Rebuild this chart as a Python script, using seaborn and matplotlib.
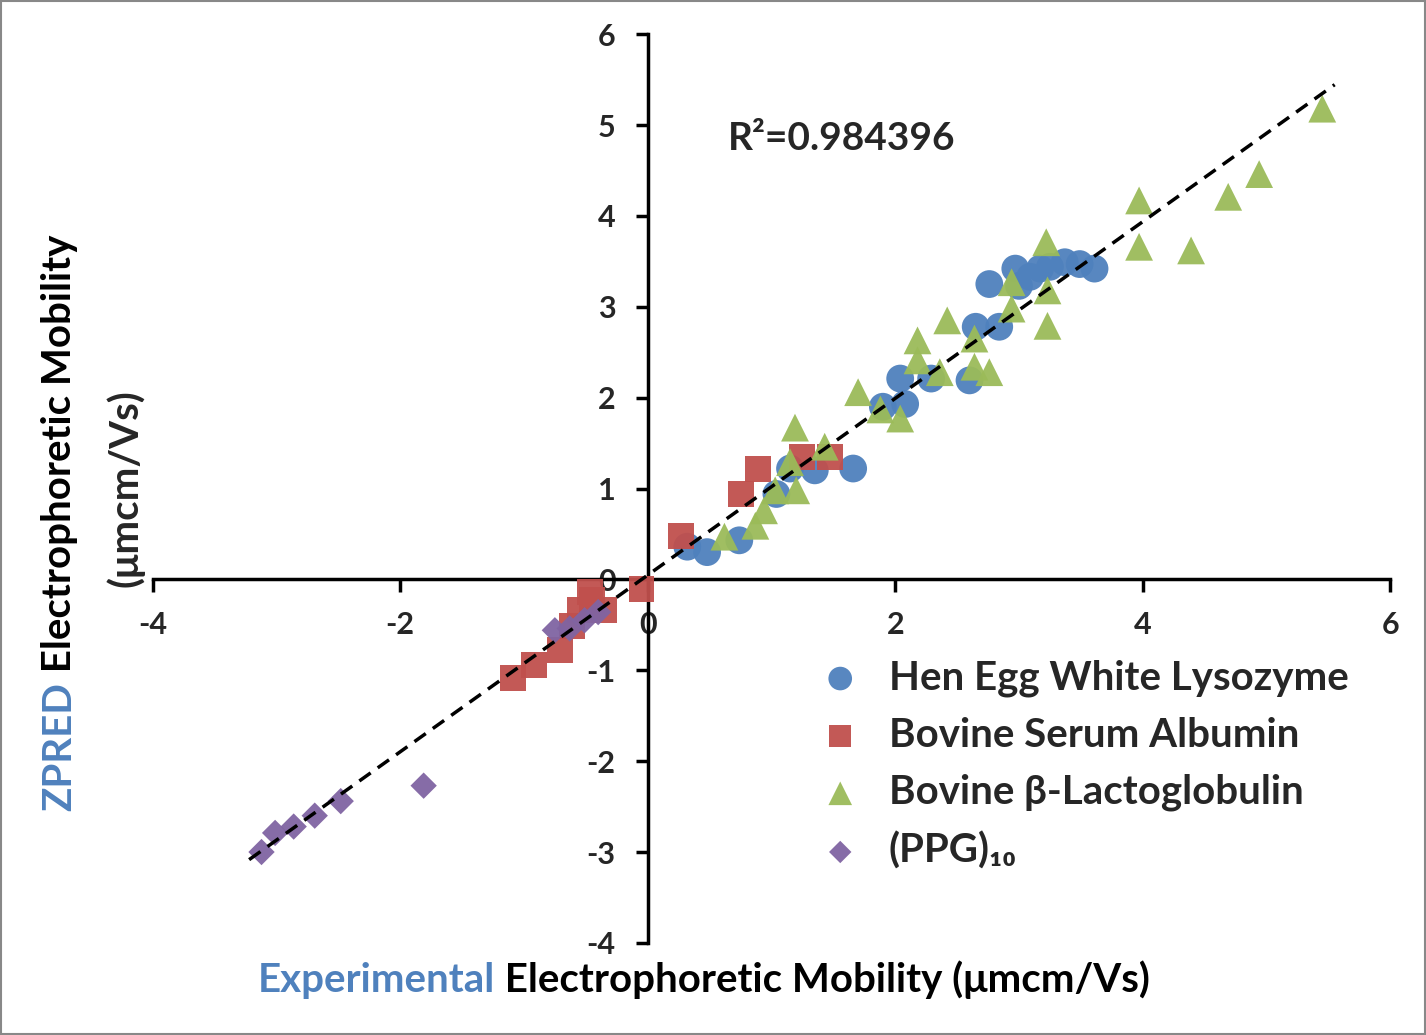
import numpy as np
import pandas as pd
import matplotlib
matplotlib.use("Agg")
import matplotlib.pyplot as plt
import seaborn as sns

# Datos
hewl_x = [0.32, 0.48, 0.74, 1.04, 1.15, 1.35, 1.66, 1.90, 2.08, 2.04, 2.29, 2.60, 2.65, 2.84,
          2.76, 3.00, 2.97, 3.25, 3.37, 3.49, 3.61, 3.17, 3.09]
hewl_y = [0.36, 0.30, 0.43, 0.94, 1.22, 1.20, 1.22, 1.90, 1.93, 2.21, 2.21, 2.19, 2.78, 2.78,
          3.25, 3.23, 3.42, 3.44, 3.49, 3.47, 3.42, 3.42, 3.33]
bsa_x = [0.27, 0.75, 0.89, 1.25, 1.47, -0.05, -1.09, -0.92, -0.71, -0.61, -0.55, -0.45, -0.35, -0.47]
bsa_y = [0.48, 0.94, 1.21, 1.35, 1.35, -0.11, -1.08, -0.94, -0.78, -0.51, -0.34, -0.23, -0.34, -0.14]
blg_x = [0.62, 0.87, 0.94, 1.03, 1.15, 1.20, 1.19, 1.43, 1.70, 1.88, 2.04, 2.18, 2.18, 2.36, 2.42,
         2.64, 2.64, 2.76, 2.94, 2.94, 3.22, 3.23, 3.23, 3.97, 3.97, 4.39, 4.69, 4.94, 5.45]
blg_y = [0.47, 0.59, 0.76, 0.98, 1.29, 0.98, 1.67, 1.46, 2.06, 1.87, 1.77, 2.63, 2.41, 2.28, 2.85,
         2.65, 2.34, 2.28, 3.27, 2.98, 3.71, 3.18, 2.79, 4.17, 3.66, 3.62, 4.21, 4.46, 5.18]
ppg_x = [-3.12, -3.01, -2.86, -2.69, -2.48, -1.81, -0.75, -0.63, -0.51, -0.40]
ppg_y = [-3.00, -2.79, -2.72, -2.60, -2.44, -2.27, -0.56, -0.54, -0.45, -0.36]

series = ["Hen Egg White Lysozyme", "Bovine Serum Albumin", "Bovine β-Lactoglobulin", "(PPG)₁₀"]
colores = ["#4F81BD", "#C0504D", "#9BBB59", "#8064A2"]
marcadores = ["o", "s", "^", "D"]
tamanos = [400, 350, 400, 180]
r2_texto = "R²=0.984396"

frames = []
for nombre, xs, ys in zip(series, [hewl_x, bsa_x, blg_x, ppg_x], [hewl_y, bsa_y, blg_y, ppg_y]):
    frames.append(pd.DataFrame({"exp": xs, "zpred": ys, "Protein": nombre}))
data = pd.concat(frames, ignore_index=True)

sns.set_theme(style="white")
plt.rcParams['font.family'] = ['Lato', 'DejaVu Sans']
plt.rcParams['font.weight'] = 'bold'
plt.rcParams['axes.unicode_minus'] = False

fig = plt.figure(figsize=(14.26, 10.35), dpi=100)
ax = fig.add_axes([0.107, 0.089, 0.868, 0.878])

for nombre, c, m, s in zip(series, colores, marcadores, tamanos):
    sub = data[data["Protein"] == nombre]
    sns.scatterplot(x="exp", y="zpred", data=sub, ax=ax, color=c, marker=m, s=s,
                    edgecolor="none", alpha=0.95, label=nombre, zorder=3)

# Linea de tendencia
pend, inter = np.polyfit(data["exp"], data["zpred"], 1)
xl = np.array([-3.22, 5.55])
ax.plot(xl, pend * xl + inter, color="black", lw=2.5, ls=(0, (4, 2.5)), zorder=4)

ax.set_xlim(-4, 6)
ax.set_ylim(-4, 6)
ax.spines['left'].set_position(('data', 0))
ax.spines['bottom'].set_position(('data', 0))
ax.spines['right'].set_visible(False)
ax.spines['top'].set_visible(False)
for sp in ['left', 'bottom']:
    ax.spines[sp].set_linewidth(2.5)
    ax.spines[sp].set_color("black")
ax.set_xticks(range(-4, 7, 2))
ax.set_yticks(range(-4, 7, 1))
ax.tick_params(axis='both', direction='out', length=9, width=2.5, labelsize=22, color="black",
               bottom=True, left=True)
ax.tick_params(axis='x', pad=14)
ax.tick_params(axis='y', pad=14)
for t in ax.get_xticklabels() + ax.get_yticklabels():
    t.set_fontweight('bold')
ax.set_xlabel("")
ax.set_ylabel("")

ax.text(0.65, 4.85, r2_texto, fontsize=28, fontweight='bold', ha='left', va='center')

leg = ax.legend(loc='upper left', bbox_to_anchor=(0.51, 0.33), frameon=False, fontsize=29,
                handletextpad=0.2, labelspacing=0.5, borderaxespad=0, markerscale=0.85)
for t in leg.get_texts():
    t.set_fontweight('bold')

# Etiquetas de ejes con colores
azul = "#4F81BD"
t1 = fig.text(0.181, 0.053, "Experimental", color=azul, fontsize=29, fontweight='bold',
              ha='left', va='center')
fig.canvas.draw()
ax.annotate(" Electrophoretic Mobility (μmcm/Vs)", xy=(1, 0.5), xycoords=t1, fontsize=29,
            fontweight='bold', ha='left', va='center', color="black")
t2 = fig.text(0.042, 0.279, "ZPRED", color=azul, fontsize=29, fontweight='bold',
              ha='center', va='center', rotation=90)
fig.canvas.draw()
ax.annotate(" Electrophoretic Mobility", xy=(0.5, 1), xycoords=t2, fontsize=29,
            fontweight='bold', ha='center', va='bottom', rotation=90, color="black")
fig.text(0.088, 0.528, "(μmcm/Vs)", fontsize=29, fontweight='bold', ha='center', va='center',
         rotation=90)

fig.patches.append(plt.Rectangle((0.001, 0.001), 0.998, 0.998, transform=fig.transFigure,
                                 fill=False, edgecolor="#888888", lw=1.5))
fig.savefig("out.png", dpi=100)
